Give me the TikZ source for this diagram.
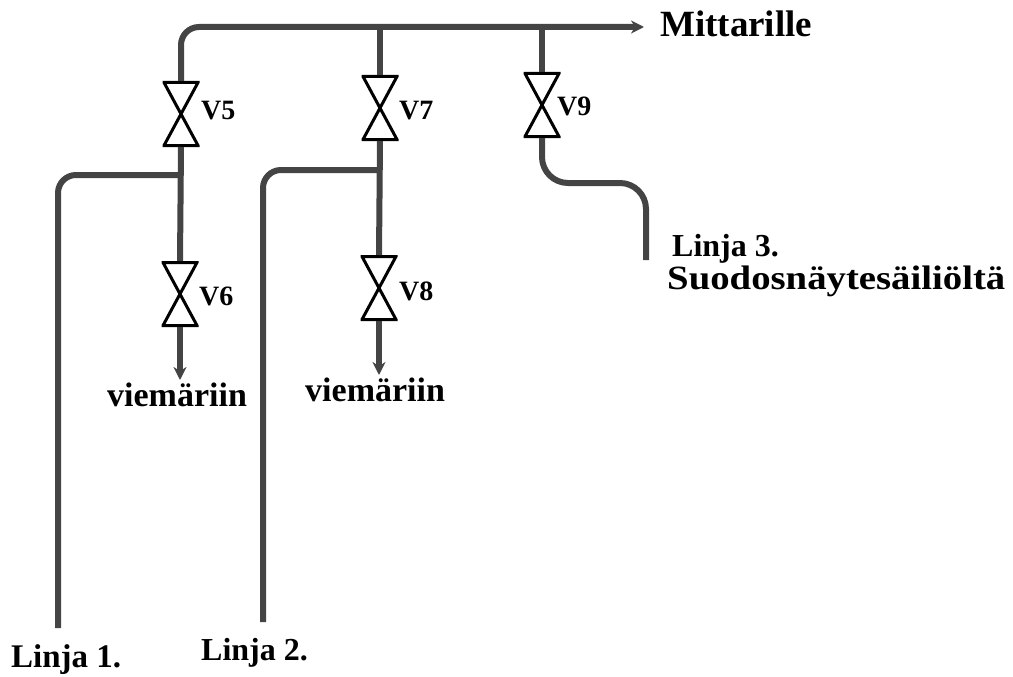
\documentclass[tikz,border=0pt]{standalone}
\usepackage{fontspec}
\setmainfont{Liberation Serif}
\usetikzlibrary{arrows.meta}
\definecolor{pipegray}{HTML}{444444}
\tikzset{
    pipe/.style={draw=pipegray, line width=6pt, rounded corners=18pt},
    valve/.style={minimum width=37pt, minimum height=66pt, inner sep=0pt, outer sep=0pt,
        path picture={
            \draw[line width=3pt, line join=miter]
                ([shift={(1.5pt,-1.5pt)}]path picture bounding box.north west)
                -- ([shift={(-1.5pt,1.5pt)}]path picture bounding box.south east)
                -- ([shift={(1.5pt,1.5pt)}]path picture bounding box.south west)
                -- ([shift={(-1.5pt,-1.5pt)}]path picture bounding box.north east)
                -- cycle;
        }},
    tag/.style={font=\bfseries\fontsize{28}{28}\selectfont, inner sep=0pt, anchor=base west},
    place/.style={font=\bfseries\fontsize{#1}{#1}\selectfont, inner sep=0pt, anchor=base west}
}
\begin{document}
\begin{tikzpicture}[x=1pt, y=-1pt, >={Stealth[length=13pt, width=13pt]}]
    \useasboundingbox (0, 0) rectangle (1013, 677);
    % Valves
    \node[valve] (V5) at (181, 114) {};
    \node[valve] (V6) at (180, 294) {};
    \node[valve] (V7) at (380, 108) {};
    \node[valve] (V8) at (379, 288) {};
    \node[valve] (V9) at (542, 105) {};

    % Valve names
    \node[tag] (V5text) at (201, 120) {V5};
    \node[tag] (V6text) at (199, 305) {V6};
    \node[tag] (V7text) at (399, 120) {V7};
    \node[tag] (V8text) at (399, 300) {V8};
    \node[tag] (V9text) at (557, 115) {V9};

    % Line names
    \node[place=37] (mittarille) at (660, 37) {Mittarille};
    \node[place=34] (drain1) at (107, 406) {viemäriin};
    \node[place=34] (drain2) at (305, 401) {viemäriin};
    \node[place=33] (line1) at (11, 667) {Linja 1.};
    \node[place=32] (line2) at (201, 660) {Linja 2.};
    \node[place=32] (line3) at (672, 256) {Linja 3.};
    \node[place=34, xscale=1.14, transform shape] (tank) at (667, 289) {Suodosnäytesäiliöltä};

    % Junctions and free ends
    \coordinate (top7) at (380, 27);
    \coordinate (top9) at (542, 27);
    \coordinate (mainend) at (644, 27);
    \coordinate (J5) at (180, 175);
    \coordinate (J7) at (379, 170);
    \coordinate (end1) at (58, 628);
    \coordinate (end2) at (263, 622);
    \coordinate (end3) at (646, 260);
    \coordinate (drain1end) at (180, 380);
    \coordinate (drain2end) at (379, 375);
    \coordinate (bend9) at (646, 183);

    % Main line to the meter
    \draw[pipe, ->] (V5.north) |- (mainend);
    \draw[pipe] (V7.north) -- (top7);
    \draw[pipe] (V9.north) -- (top9);

    % Line 1
    \draw[pipe] (end1) |- (J5);
    \draw[pipe] (V5.south) -- (V6.north);
    \draw[pipe, ->] (V6.south) -- (drain1end);

    % Line 2
    \draw[pipe] (end2) |- (J7);
    \draw[pipe] (V7.south) -- (V8.north);
    \draw[pipe, ->] (V8.south) -- (drain2end);

    % Line 3
    \draw[pipe, rounded corners=26pt] (V9.south) |- (bend9) -- (end3);
\end{tikzpicture}
\end{document}
